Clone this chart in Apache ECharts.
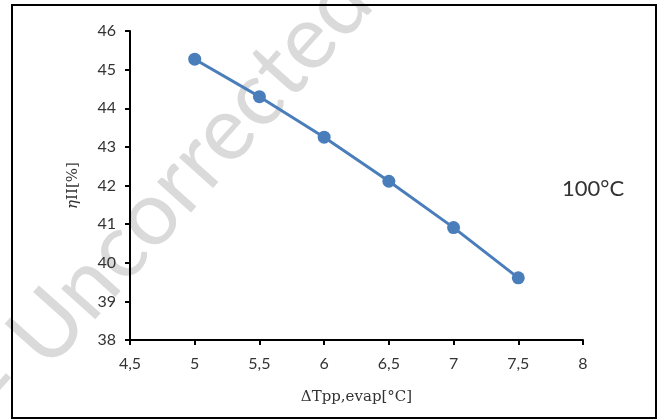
<!DOCTYPE html>
<html><head><meta charset="utf-8">
<script src="https://cdn.jsdelivr.net/npm/echarts@6/dist/echarts.min.js"></script>
<style>html,body{margin:0;padding:0;background:#fff}#c{width:666px;height:419px}</style>
</head><body><div id="c"></div>
<script>
const xValues = [5, 5.5, 6, 6.5, 7, 7.5];
const etaValues = [45.27, 44.30, 43.25, 42.11, 40.91, 39.61];
const xTitle = 'ΔTpp,evap[°C]';
const yTitle = '{i|η}II[%]';
const annotation = '100°C';
const watermark = '- Uncorrected';

const chart = echarts.init(document.getElementById('c'));
const tickFont = {fontFamily: 'Lato, "Open Sans", sans-serif', fontSize: 16, color: '#333'};
const serif = '"DejaVu Serif", "Liberation Serif", serif';
chart.setOption({
  animation: false,
  grid: {left: 130, right: 83, top: 31, bottom: 79},
  xAxis: {
    type: 'value', min: 4.5, max: 8, interval: 0.5,
    axisLine: {show: true, lineStyle: {color: '#000', width: 2}},
    axisTick: {show: true, length: 5, lineStyle: {color: '#000', width: 2}},
    splitLine: {show: false},
    axisLabel: Object.assign({margin: 16, formatter: v => String(v).replace('.', ',')}, tickFont),
    name: xTitle, nameLocation: 'middle', nameGap: 50,
    nameTextStyle: {fontFamily: serif, fontSize: 15, color: '#333'}
  },
  yAxis: {
    type: 'value', min: 38, max: 46, interval: 1,
    axisLine: {show: true, onZero: false, lineStyle: {color: '#000', width: 2}},
    axisTick: {show: true, length: 5, lineStyle: {color: '#000', width: 2}},
    splitLine: {show: false},
    axisLabel: Object.assign({margin: 14}, tickFont),
    name: yTitle, nameLocation: 'middle', nameGap: 49, nameRotate: 90,
    nameTextStyle: {fontFamily: serif, fontSize: 15, color: '#333',
      rich: {i: {fontFamily: serif, fontStyle: 'italic', fontSize: 15, color: '#333'}}}
  },
  series: [{
    type: 'line',
    data: xValues.map((x, i) => [x, etaValues[i]]),
    symbol: 'circle', symbolSize: 13,
    lineStyle: {color: '#4a7ebb', width: 3},
    itemStyle: {color: '#4a7ebb'},
    z: 5
  }],
  graphic: [
    {type: 'text', x: 22, y: 425, rotation: 0.84, z: -10, silent: true,
     style: {text: watermark, fontSize: 90, fontWeight: 'normal', fontFamily: 'Lato, sans-serif', fill: '#dadada', verticalAlign: 'bottom', align: 'left'}},
    {type: 'text', left: 562, top: 178, style: {text: annotation, fontSize: 22, fontFamily: 'Lato, "Open Sans", sans-serif', fill: '#333'}},
    {type: 'rect', shape: {x: 12, y: 5, width: 644, height: 413}, style: {fill: 'none', stroke: '#000', lineWidth: 2}, z: 10}
  ]
});
</script></body></html>
